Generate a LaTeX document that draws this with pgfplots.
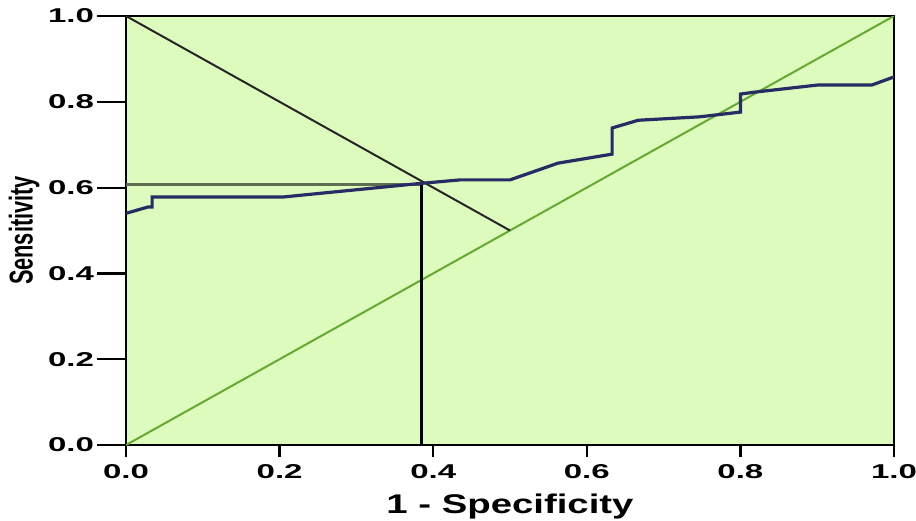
\documentclass[border=0pt]{standalone}
\usepackage{fontspec}
\setmainfont{Liberation Sans}
\newfontfamily\tickfont[FakeStretch=1.65]{Liberation Sans}
\newfontfamily\xlabfont[FakeStretch=1.42]{Liberation Sans}
\newfontfamily\ylabfont[FakeStretch=0.66]{Liberation Sans}
\usepackage{pgfplots}
\pgfplotsset{compat=1.18}
\definecolor{bgg}{RGB}{221,251,188}
\definecolor{navyc}{RGB}{40,44,100}
\definecolor{diagg}{RGB}{100,170,50}
\definecolor{hlinec}{RGB}{95,110,80}
\begin{document}
\begin{tikzpicture}
\path[use as bounding box] (-63pt,-37.5pt) rectangle (395pt,222.5pt);
\begin{axis}[
  at={(0,0)}, anchor=south west,
  scale only axis, width=384pt, height=214.5pt,
  xmin=0, xmax=1, ymin=0, ymax=1,
  xtick={0,0.2,0.4,0.6,0.8,1}, xticklabels={0.0,0.2,0.4,0.6,0.8,1.0},
  ytick={0,0.2,0.4,0.6,0.8,1}, yticklabels={0.0,0.2,0.4,0.6,0.8,1.0},
  xtick pos=lower, ytick pos=left,
  tick align=outside, major tick length=6pt,
  ytick style={draw=none},
  axis background/.style={fill=bgg},
  axis line style={line width=1.2pt, black},
  xtick style={line width=1.1pt, black},
  xticklabel style={font=\tickfont\bfseries\fontsize{10}{12}\selectfont, anchor=north},
  yticklabel style={font=\tickfont\bfseries\fontsize{10}{12}\selectfont, anchor=east, xshift=-6.5pt},
  xlabel={1 - Specificity}, ylabel={Sensitivity},
  every axis x label/.style={at={(rel axis cs:0.5,0)}, yshift=-31pt, anchor=center, font=\xlabfont\bfseries\fontsize{13.5}{16}\selectfont},
  every axis y label/.style={at={(rel axis cs:0,0.5)}, xshift=-51pt, rotate=90, anchor=center, font=\ylabfont\bfseries\fontsize{16.5}{18}\selectfont},
]
\addplot[diagg, line width=1pt] coordinates {(0,0) (1,1)};
\addplot[black!85, line width=1pt] coordinates {(0,1) (0.5,0.5)};
\addplot[hlinec, line width=1.4pt] coordinates {(0,0.607) (0.385,0.607)};
\addplot[black, line width=1.3pt] coordinates {(0.385,0) (0.385,0.61)};
\addplot[navyc, line width=1.6pt] coordinates {
(0,0.54) (0.029,0.555) (0.034,0.555) (0.034,0.578) (0.204,0.578) (0.3,0.595)
(0.385,0.61) (0.435,0.618) (0.5,0.618) (0.5625,0.657) (0.633,0.678) (0.633,0.739)
(0.667,0.757) (0.747,0.765) (0.8,0.776) (0.8,0.818) (0.816,0.822) (0.9,0.839)
(0.971,0.839) (1.0,0.858)};
\end{axis}
\begin{axis}[
  at={(0,0)}, anchor=south west,
  scale only axis, width=384pt, height=214.5pt,
  xmin=0, xmax=1, ymin=0, ymax=1,
  xtick=\empty,
  ytick={0,0.2,0.4,0.6,0.8,1}, yticklabels={},
  ytick pos=left, tick align=outside, major tick length=14.5pt,
  ytick style={line width=1.1pt, black},
  axis line style={draw=none},
]
\end{axis}
\end{tikzpicture}
\end{document}
